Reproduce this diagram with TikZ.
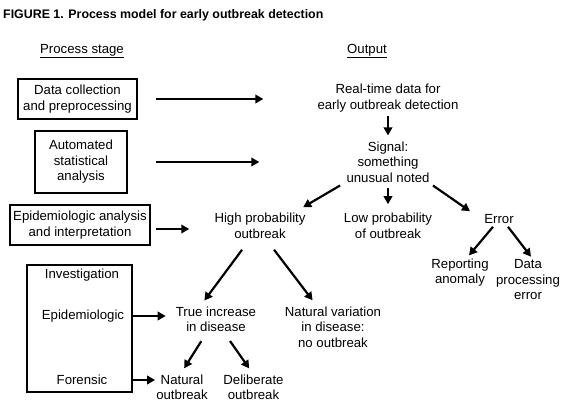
\documentclass[tikz,border=0pt]{standalone}
\usepackage{fontspec}
\setmainfont{Liberation Sans}
\usetikzlibrary{arrows.meta, positioning, calc}

\begin{document}
\begin{tikzpicture}[
    x=1pt, y=1pt,
    font=\fontsize{13.2}{15.5}\selectfont,
    stage/.style={rectangle, draw, line width=2.4pt, align=center, inner sep=2pt},
    txt/.style={align=center, inner sep=3pt},
    arrow/.style={-{Triangle[length=8pt, width=8.5pt]}, line width=2.2pt}
]
\useasboundingbox (0,0) rectangle (574,-410);

% Title and column heads
\node[anchor=west, inner sep=0, font=\fontsize{12.4}{15}\selectfont\bfseries] (title) at (3,-15) {FIGURE 1. Process model for early outbreak detection};
\node[txt] (headstage) at (82,-51) {\underline{Process stage}};
\node[txt] (headout) at (367,-51) {\underline{Output}};

% Process stages
\node[stage, minimum width=119, minimum height=40] (collect) at (77.5,-99) {Data collection\\and preprocessing};
\node[stage, minimum width=92, minimum height=62] (stats) at (81,-162) {Automated\\statistical\\analysis};
\node[stage, minimum width=140, minimum height=40] (epian) at (80,-225) {Epidemiologic analysis\\and interpretation};
\node[stage, minimum width=105, minimum height=127] (invest) at (79.5,-328.5) {};
\node[txt] (investlabel) at (82,-275) {Investigation};
\node[txt] (investepi) at (83,-316) {Epidemiologic};
\node[txt] (investfor) at (82,-380) {Forensic};

% Outputs
\node[txt] (realtime) at (388,-98) {Real-time data for\\early outbreak detection};
\node[txt] (signal) at (388,-162) {Signal:\\something\\unusual noted};
\node[txt] (highprob) at (260,-226) {High probability\\outbreak};
\node[txt] (lowprob) at (388,-226) {Low probability\\of outbreak};
\node[txt] (error) at (499,-219) {Error};
\node[txt] (report) at (460,-272.5) {Reporting\\anomaly};
\node[txt] (dataerr) at (528,-280) {Data\\processing\\error};
\node[txt] (trueinc) at (216,-319.5) {True increase\\in disease};
\node[txt] (natvar) at (333,-327) {Natural variation\\in disease:\\no outbreak};
\node[txt] (natob) at (182,-387.5) {Natural\\outbreak};
\node[txt] (delib) at (253.5,-387.5) {Deliberate\\outbreak};

% Stage to output
\draw[arrow, shorten <=18pt, shorten >=51pt] (collect.east) -- (collect.east -| realtime.west);
\draw[arrow, shorten <=28pt, shorten >=84pt] (stats.east) -- (stats.east -| signal.west);
\draw[arrow, shorten <=5pt, shorten >=22pt] ([yshift=-4pt]epian.east) -- ([yshift=-4pt]epian.east -| highprob.west);
\draw[arrow, shorten >=7pt] (investepi.east -| invest.east) -- (investepi.east -| trueinc.west);
\draw[arrow, shorten >=-2pt] (investfor.east -| invest.east) -- (investfor.east -| natob.west);

% Output tree
\draw[arrow, shorten <=1pt, shorten >=3pt] (realtime) -- (signal);
\draw[arrow, shorten >=6pt] ([xshift=-48pt]signal.south) -- ([xshift=38pt]highprob.north);
\draw[arrow, shorten <=2pt, shorten >=6pt] (signal) -- (lowprob);
\draw[arrow] ([xshift=45pt]signal.south) -- ([xshift=-29pt]error.north);
\draw[arrow] ([xshift=-6pt]error.south) -- ([xshift=9pt]report.north);
\draw[arrow] ([xshift=9pt]error.south) -- ([xshift=3pt]dataerr.north);
\draw[arrow, shorten <=10pt, shorten >=4pt] ([xshift=-12pt]highprob.south) -- ([xshift=-14pt]trueinc.north);
\draw[arrow, shorten <=10pt, shorten >=4pt] ([xshift=8pt]highprob.south) -- ([xshift=-18pt]natvar.north);
\draw[arrow, shorten <=7pt, shorten >=4pt] ([xshift=-11pt]trueinc.south) -- (natob.north);
\draw[arrow, shorten <=7pt, shorten >=4pt] ([xshift=10pt]trueinc.south) -- ([xshift=-2pt]delib.north);

\end{tikzpicture}
\end{document}
